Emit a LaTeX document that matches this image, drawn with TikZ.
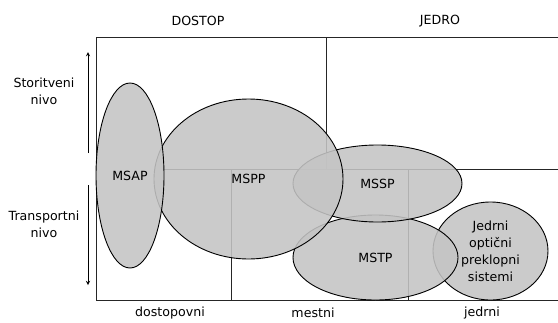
\documentclass[tikz,border=0pt]{standalone}
\usepackage{fontspec}
\setmainfont{DejaVu Sans}
\usepackage{tikz}
\usetikzlibrary{positioning,shapes.geometric}

\begin{document}
\begin{tikzpicture}[%
    x=1pt,
    y=-1pt,
    >=stealth,
    line width=0.9pt,
    font=\fontsize{12.6}{17}\selectfont,
    field/.style={%
      ellipse,
      draw,
      inner sep=0pt,
      fill=black!23,
      fill opacity=0.88,
      text opacity=1,
      align=center
    },
    grid/.style={%
      draw=black!85
    }
  ]
    \useasboundingbox (0,0) rectangle (558,322);

    % table lines
    \coordinate (tl) at (96,37);
    \coordinate (tr) at (558,37);
    \coordinate (bl) at (96,300);
    \coordinate (br) at (558,300);
    \coordinate (split) at (326,37);
    \coordinate (mid) at (326,169);
    \coordinate (midl) at (164,169);
    \coordinate (midr) at (558,169);
    \coordinate (c1) at (231,169);
    \coordinate (c1b) at (231,300);
    \coordinate (c2) at (408,169);
    \coordinate (c2b) at (408,300);

    \path[grid] (tr) -- (tl) -- (bl) -- (br)
                (split) -- (mid)
                (midl) -- (midr)
                (c1) -- (c1b)
                (c2) -- (c2b);

    % headings
    \node (dostop) at (198,21)  {DOSTOP};
    \node (jedro)  at (440,21)  {JEDRO};
    \node (stor)   [align=center] at (44,91)  {Storitveni\\nivo};
    \node (trans)  [align=center] at (44,224) {Transportni\\nivo};
    \node (dostopovni) at (170,313) {dostopovni};
    \node (mestni)     at (313,313) {mestni};
    \node (jedrni)     at (482,313) {jedrni};

    \coordinate (up0) at (88,153);
    \coordinate (up1) at (88,52);
    \coordinate (dn0) at (88,185);
    \coordinate (dn1) at (88,285);
    \draw[->] (up0) -- (up1);
    \draw[->] (dn0) -- (dn1);

    % ellipses, lowest first
    \node[field, minimum width=115pt, minimum height=98pt]  (ops)  at (490.5,251)   {Jedrni\\optični\\preklopni\\sistemi};
    \node[field, minimum width=165pt, minimum height=85pt]  (mstp) at (375.5,257.5) {MSTP};
    \node[field, minimum width=169pt, minimum height=77pt]  (mssp) at (377.5,183.5) {MSSP};
    \node[field, minimum width=189pt, minimum height=160pt] (mspp) at (248.5,179)   {MSPP};
    \node[field, minimum width=68pt,  minimum height=185pt] (msap) at (130,175.5)   {MSAP};
  \end{tikzpicture}
\end{document}
